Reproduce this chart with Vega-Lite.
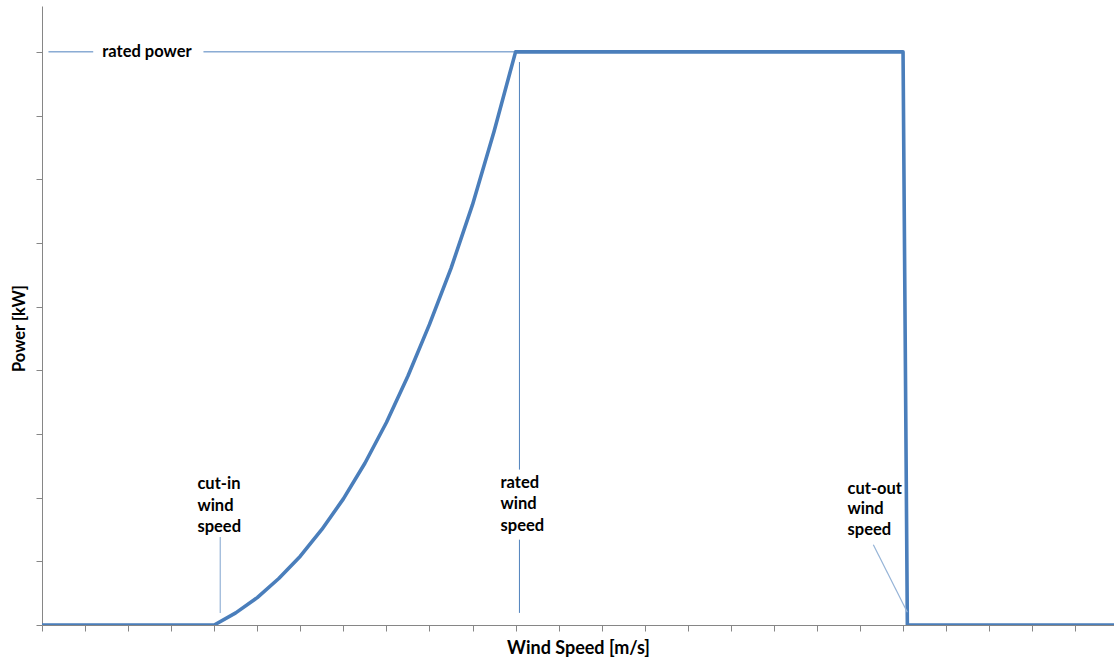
{
  "$schema": "https://vega.github.io/schema/vega-lite/v6.json",
  "autosize": "none",
  "width": 1072,
  "height": 619,
  "padding": {"left": 42, "top": 6, "right": 0, "bottom": 36},
  "background": "white",
  "config": {"view": {"stroke": null}, "font": "Lato"},
  "datasets": {
    "curve": [
      {"ws": 0, "p": 0}, {"ws": 4, "p": 0}, {"ws": 4.5, "p": 0.19}, {"ws": 5, "p": 0.43},
      {"ws": 5.5, "p": 0.73}, {"ws": 6, "p": 1.08}, {"ws": 6.5, "p": 1.5}, {"ws": 7, "p": 1.98},
      {"ws": 7.5, "p": 2.54}, {"ws": 8, "p": 3.18}, {"ws": 8.5, "p": 3.91}, {"ws": 9, "p": 4.72},
      {"ws": 9.5, "p": 5.6}, {"ws": 10, "p": 6.6}, {"ws": 10.5, "p": 7.75}, {"ws": 11, "p": 9.0},
      {"ws": 20, "p": 9.0}, {"ws": 20.1, "p": 0}, {"ws": 24.9, "p": 0}
    ],
    "dark": [
      {"x": 0.15, "y": 9.0, "x2": 1.19, "y2": 9.0},
      {"x": 3.75, "y": 9.0, "x2": 11.04, "y2": 9.0},
      {"x": 11.09, "y": 8.84, "x2": 11.09, "y2": 2.44},
      {"x": 11.09, "y": 1.34, "x2": 11.09, "y2": 0.19}
    ],
    "light": [
      {"x": 4.14, "y": 1.38, "x2": 4.14, "y2": 0.19},
      {"x": 19.31, "y": 1.26, "x2": 20.1, "y2": 0.2}
    ],
    "labels": [
      {"x": 1.4, "y": 9.0, "t": "rated power"},
      {"x": 3.61, "y": 2.22, "t": "cut-in"},
      {"x": 3.61, "y": 1.87, "t": "wind"},
      {"x": 3.61, "y": 1.54, "t": "speed"},
      {"x": 10.65, "y": 2.23, "t": "rated"},
      {"x": 10.65, "y": 1.9, "t": "wind"},
      {"x": 10.65, "y": 1.56, "t": "speed"},
      {"x": 18.71, "y": 2.14, "t": "cut-out"},
      {"x": 18.71, "y": 1.82, "t": "wind"},
      {"x": 18.71, "y": 1.49, "t": "speed"}
    ]
  },
  "layer": [
    {
      "data": {"name": "curve"},
      "mark": {"type": "line", "color": "#4a7ebb", "strokeWidth": 3.6, "clip": true, "strokeJoin": "round"},
      "encoding": {
        "x": {
          "field": "ws", "type": "quantitative",
          "scale": {"domain": [0, 24.9], "nice": false, "zero": false},
          "axis": {
            "title": "Wind Speed [m/s]", "values": [0,1,2,3,4,5,6,7,8,9,10,11,12,13,14,15,16,17,18,19,20,21,22,23,24],
            "labels": false, "grid": false, "domainColor": "#868686", "tickColor": "#868686",
            "tickSize": 6, "titleFont": "Lato", "titleFontSize": 18, "titleFontWeight": "bold",
            "titleColor": "#000000", "titleBaseline": "middle", "titleY": 23
          }
        },
        "y": {
          "field": "p", "type": "quantitative",
          "scale": {"domain": [0, 9.72], "nice": false},
          "axis": {
            "title": "Power [kW]", "values": [0,1,2,3,4,5,6,7,8,9],
            "labels": false, "grid": false, "domainColor": "#868686", "tickColor": "#868686",
            "tickSize": 6, "titleFont": "Lato", "titleFontSize": 16.5, "titleFontWeight": "bold",
            "titleColor": "#000000", "titleBaseline": "middle", "titleX": -23, "titleY": 322
          }
        }
      }
    },
    {
      "data": {"name": "dark"},
      "mark": {"type": "rule", "color": "#4f81bd", "strokeWidth": 1},
      "encoding": {
        "x": {"field": "x", "type": "quantitative"},
        "y": {"field": "y", "type": "quantitative"},
        "x2": {"field": "x2"},
        "y2": {"field": "y2"}
      }
    },
    {
      "data": {"name": "light"},
      "mark": {"type": "rule", "color": "#95b3d7", "strokeWidth": 1.2},
      "encoding": {
        "x": {"field": "x", "type": "quantitative"},
        "y": {"field": "y", "type": "quantitative"},
        "x2": {"field": "x2"},
        "y2": {"field": "y2"}
      }
    },
    {
      "data": {"name": "labels"},
      "mark": {"type": "text", "align": "left", "baseline": "middle", "font": "Lato", "fontSize": 16.5, "fontWeight": "bold", "color": "#000000"},
      "encoding": {
        "x": {"field": "x", "type": "quantitative"},
        "y": {"field": "y", "type": "quantitative"},
        "text": {"field": "t"}
      }
    }
  ]
}
